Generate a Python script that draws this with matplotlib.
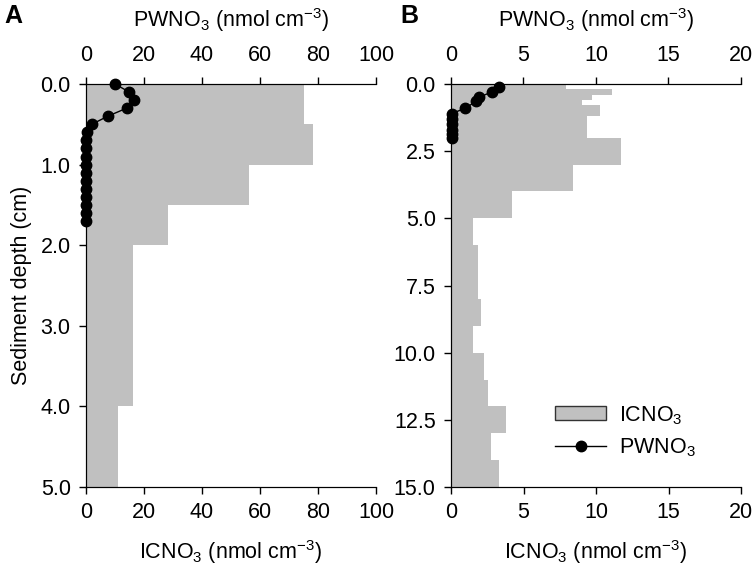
import matplotlib
matplotlib.use("Agg")
import matplotlib.pyplot as plt
from matplotlib.patches import Patch
from matplotlib.lines import Line2D

plt.rcParams['font.family'] = ['Liberation Sans', 'DejaVu Sans']
plt.rcParams['mathtext.fontset'] = 'custom'
plt.rcParams['mathtext.rm'] = 'Liberation Sans'
plt.rcParams['mathtext.it'] = 'Liberation Sans:italic'
plt.rcParams['mathtext.bf'] = 'Liberation Sans:bold'

# ---- Panel A data ----
a_ic_top = [0.0, 0.5, 1.0, 1.5, 2.0, 4.0]
a_ic_bot = [0.5, 1.0, 1.5, 2.0, 4.0, 5.0]
a_ic_val = [75.0, 78.3, 56.2, 28.4, 16.3, 10.9]
a_pw_depth = [0.0, 0.1, 0.2, 0.3, 0.4, 0.5, 0.6, 0.7, 0.8, 0.9, 1.0, 1.1, 1.2, 1.3, 1.4, 1.5, 1.6, 1.7]
a_pw_val = [10.0, 14.9, 16.7, 14.0, 7.5, 2.0, 0.2, 0.1, 0.1, 0.1, 0.1, 0.1, 0.1, 0.1, 0.1, 0.1, 0.1, 0.1]

# ---- Panel B data ----
b_ic_top = [0.0, 0.2, 0.4, 0.6, 0.8, 1.2, 2.0, 3.0, 4.0, 5.0, 6.0, 8.0, 9.0, 10.0, 11.0, 12.0, 13.0, 14.0]
b_ic_bot = [0.2, 0.4, 0.6, 0.8, 1.2, 2.0, 3.0, 4.0, 5.0, 6.0, 8.0, 9.0, 10.0, 11.0, 12.0, 13.0, 14.0, 15.0]
b_ic_val = [7.9, 11.1, 9.7, 9.0, 10.3, 9.4, 11.7, 8.4, 4.2, 1.55, 1.84, 2.07, 1.55, 2.3, 2.53, 3.77, 2.74, 3.33]
b_pw_depth = [0.1, 0.3, 0.5, 0.65, 0.9, 1.1, 1.3, 1.5, 1.7, 1.85, 2.0]
b_pw_val = [3.3, 2.8, 1.9, 1.7, 1.0, 0.05, 0.05, 0.05, 0.05, 0.05, 0.05]

a_xticks = [0, 20, 40, 60, 80, 100]
a_yticks = [0.0, 1.0, 2.0, 3.0, 4.0, 5.0]
b_xticks = [0, 5, 10, 15, 20]
b_yticks = [0.0, 2.5, 5.0, 7.5, 10.0, 12.5, 15.0]

BAR_C = '#c0c0c0'
FS = 15.5

fig = plt.figure(figsize=(7.56, 5.75), dpi=100)

W, H = 756, 575
def rect(l, r, t, b):
    return [l / W, 1 - b / H, (r - l) / W, (b - t) / H]

def panel(pos, top, bot, val, pdep, pval, xmax, xticks, yticks, ymax, label, lx, ylabel=False):
    ax = fig.add_axes(pos)
    heights = [b - t for t, b in zip(top, bot)]
    ax.barh(top, val, height=heights, align='edge', color=BAR_C, linewidth=0)
    ax.set_xlim(0, xmax)
    ax.set_ylim(ymax, 0)
    ax.set_xticks(xticks)
    ax.set_yticks(yticks)
    ax.set_yticklabels([f"{v:.1f}" for v in yticks])
    ax.spines['right'].set_visible(False)
    ax.tick_params(direction='out', length=5, width=1, labelsize=FS, pad=6)
    ax.set_xlabel('ICNO$_3$ (nmol cm$^{-3}$)', fontsize=FS, labelpad=11)
    if ylabel:
        ax.set_ylabel('Sediment depth (cm)', fontsize=FS, labelpad=6)
    ax2 = ax.twiny()
    ax2.plot(pval, pdep, '-', color='black', lw=1, marker='o', ms=7.5, mfc='black', mec='black', clip_on=False)
    ax2.set_xlim(0, xmax)
    ax2.set_ylim(ymax, 0)
    ax2.set_xticks(xticks)
    ax2.spines['right'].set_visible(False)
    ax2.tick_params(direction='out', length=5, width=1, labelsize=FS, pad=8)
    ax2.set_xlabel('PWNO$_3$ (nmol cm$^{-3}$)', fontsize=FS, labelpad=13)
    fig.text(lx / W, 1 - 16 / H, label, fontsize=18, fontweight='bold', va='center')
    return ax, ax2

axA, axA2 = panel(rect(86, 376, 84, 487), a_ic_top, a_ic_bot, a_ic_val, a_pw_depth, a_pw_val,
                  100, a_xticks, a_yticks, 5.0, 'A', 4, ylabel=True)
axB, axB2 = panel(rect(451, 741, 84, 487), b_ic_top, b_ic_bot, b_ic_val, b_pw_depth, b_pw_val,
                  20, b_xticks, b_yticks, 15.0, 'B', 400)

handles = [Patch(facecolor=BAR_C, edgecolor='#333333', linewidth=1),
           Line2D([], [], color='black', lw=1, marker='o', ms=7.5)]
leg = axB2.legend(handles, ['ICNO$_3$', 'PWNO$_3$'], loc='lower right', bbox_to_anchor=(0.843, 0.07),
                  borderaxespad=0, borderpad=0,
                  frameon=False, fontsize=FS, handlelength=2.35, handleheight=0.6, labelspacing=0.45,
                  handletextpad=0.6)

fig.savefig('out.png', dpi=100)
